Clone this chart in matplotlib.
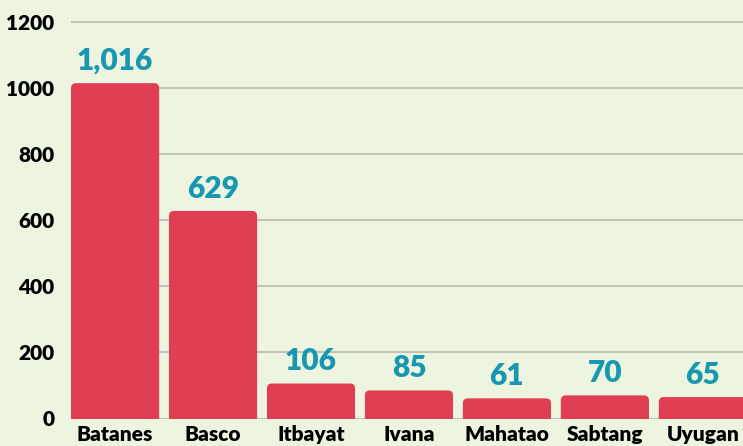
import numpy as np
import matplotlib
matplotlib.use("Agg")
import matplotlib.pyplot as plt
from matplotlib.patches import FancyBboxPatch

# data
towns = ['Batanes', 'Basco', 'Itbayat', 'Ivana', 'Mahatao', 'Sabtang', 'Uyugan']
counts = [1016, 629, 106, 85, 61, 70, 65]
yticks = [0, 200, 400, 600, 800, 1000, 1200]

bg = '#EDF4E0'
bar_color = '#E03E52'
label_color = '#1797B0'

plt.rcParams['font.family'] = ['Lato', 'DejaVu Sans']

W, H = 743, 446
fig = plt.figure(figsize=(W / 100, H / 100), dpi=100)
fig.patch.set_facecolor(bg)
ax_left, ax_bottom = 71 / W, 27.5 / H
ax = fig.add_axes([ax_left, ax_bottom, 1 - ax_left, 1 - ax_bottom])
ax.set_facecolor(bg)

xlo, xhi = -0.45, 6.41
ylo, yhi = 0, 1268
ax.set_xlim(xlo, xhi)
ax.set_ylim(ylo, yhi)

# pixels per data unit, used to keep the top corners round
px_x = (1 - ax_left) * W / (xhi - xlo)
px_y = (1 - ax_bottom) * H / (yhi - ylo)
r_px = 5
r_x = r_px / px_x
aspect = px_x / px_y

width = 0.9
x = np.arange(len(towns))
for xi, v in zip(x, counts):
    patch = FancyBboxPatch((xi - width / 2, -40), width, v + 40,
                           boxstyle=f"round,pad=0,rounding_size={r_x}",
                           mutation_aspect=aspect,
                           facecolor=bar_color, edgecolor='none', zorder=3)
    ax.add_patch(patch)
    ax.annotate(f"{v:,}", (xi, v), xytext=(0, 6), textcoords='offset points',
                ha='center', va='bottom', color=label_color,
                fontsize=21.5, fontweight='heavy', zorder=4)

ax.set_yticks(yticks)
ax.set_yticklabels([str(t) for t in yticks], fontsize=15, fontweight='heavy')
ax.set_xticks(x)
ax.set_xticklabels(towns, fontsize=15, fontweight='heavy')
ax.tick_params(axis='y', length=0, pad=12)
ax.tick_params(axis='x', length=0, pad=5)

ax.yaxis.grid(True, color='#BFC4B4', linewidth=1.5, zorder=0)
ax.set_axisbelow(True)
for s in ax.spines.values():
    s.set_visible(False)

fig.savefig('out.png', dpi=100, facecolor=bg)
